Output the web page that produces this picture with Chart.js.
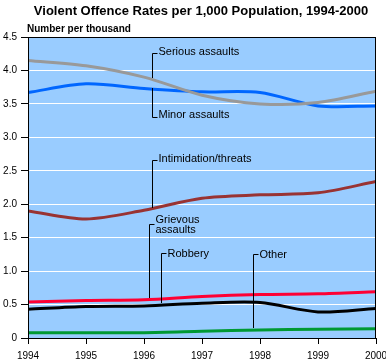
<!DOCTYPE html>
<html>
<head>
<meta charset="utf-8">
<title>Violent Offence Rates per 1,000 Population, 1994-2000</title>
<script src="https://cdn.jsdelivr.net/npm/chart.js@4/dist/chart.umd.min.js"></script>
<style>
  html, body { margin: 0; padding: 0; background: #fff; }
  .chart-container { position: relative; width: 386px; height: 361px; }
</style>
</head>
<body>
<div class="chart-container"><canvas id="chartContext" width="386" height="361"></canvas></div>
<script>
// Chart data
const years = [1994, 1995, 1996, 1997, 1998, 1999, 2000];
const seriousAssaults = [4.15, 4.07, 3.9, 3.63, 3.5, 3.52, 3.69];
const minorAssaults = [3.67, 3.8, 3.73, 3.68, 3.67, 3.47, 3.47];
const intimidation = [1.9, 1.78, 1.91, 2.09, 2.14, 2.17, 2.34];
const robbery = [0.54, 0.56, 0.57, 0.62, 0.65, 0.66, 0.69];
const grievousAssaults = [0.43, 0.47, 0.48, 0.52, 0.53, 0.39, 0.44];
const other = [0.08, 0.08, 0.08, 0.1, 0.12, 0.13, 0.14];
const yTicks = [0, 0.5, 1.0, 1.5, 2.0, 2.5, 3.0, 3.5, 4.0, 4.5];

const FONT = "'Liberation Sans', Arial, sans-serif";

// Callout labels with leader lines (year / value positions on the scales)
const callouts = [
    { lines: ["Serious assaults"], x: 1996.14, top: 4.26, bottom: 3.89, dy: -2 },
    { lines: ["Minor assaults"], x: 1996.14, top: 3.30, bottom: 3.74, dy: -3 },
    { lines: ["Intimidation/threats"], x: 1996.13, top: 2.66, bottom: 1.94, dy: -2 },
    { lines: ["Grievous", "assaults"], x: 1996.09, top: 1.70, bottom: 0.60, dy: 0 },
    { lines: ["Robbery"], x: 1996.30, top: 1.27, bottom: 0.52, dy: 0 },
    { lines: ["Other"], x: 1997.88, top: 1.25, bottom: 0.145, dy: 0 }
];

function toPoints(values) {
    return values.map((v, i) => ({ x: years[i], y: v }));
}

// Light blue plot background, black frame, titles and callouts
const decorations = {
    id: "decorations",
    beforeDraw(chart) {
        const { ctx, chartArea: a } = chart;
        ctx.save();
        ctx.fillStyle = "#99CCFF";
        ctx.fillRect(a.left, a.top, a.right - a.left, a.bottom - a.top);
        ctx.restore();
    },
    afterDatasetsDraw(chart) {
        const { ctx, chartArea: a, scales } = chart;
        ctx.save();
        // frame
        ctx.strokeStyle = "#000";
        ctx.lineWidth = 1;
        ctx.strokeRect(a.left + 0.5, a.top + 0.5, a.right - a.left - 1, a.bottom - a.top);

        // callouts
        ctx.font = "11px " + FONT;
        ctx.fillStyle = "#000";
        ctx.textBaseline = "middle";
        ctx.textAlign = "left";
        callouts.forEach(c => {
            const x = Math.round(scales.x.getPixelForValue(c.x)) + 0.5;
            const yTop = Math.round(scales.y.getPixelForValue(c.top)) + 0.5;
            const yBot = Math.round(scales.y.getPixelForValue(c.bottom));
            ctx.beginPath();
            ctx.moveTo(x + 5, yTop);
            ctx.lineTo(x, yTop);
            ctx.lineTo(x, yBot);
            ctx.stroke();
            if (c.lines.length === 1) {
                ctx.fillText(c.lines[0], x + 6, yTop + c.dy);
            } else {
                ctx.fillText(c.lines[0], x + 6, yTop - 5);
                ctx.fillText(c.lines[1], x + 6, yTop + 5);
            }
        });

        // titles
        ctx.font = "bold 13px " + FONT;
        ctx.textAlign = "center";
        ctx.fillText("Violent Offence Rates per 1,000 Population, 1994-2000", 201, 11);
        ctx.font = "bold 10px " + FONT;
        ctx.textAlign = "left";
        ctx.fillText("Number per thousand", 27, 29);
        ctx.restore();
    }
};

function lineSet(label, values, color) {
    return {
        label: label,
        data: toPoints(values),
        borderColor: color,
        borderWidth: 3,
        pointRadius: 0,
        tension: 0.3,
        fill: false
    };
}

const context = document.getElementById("chartContext");
new Chart(context, {
    type: "line",
    data: {
        datasets: [
            lineSet("Serious assaults", seriousAssaults, "#999999"),
            lineSet("Minor assaults", minorAssaults, "#0066FF"),
            lineSet("Intimidation/threats", intimidation, "#993333"),
            lineSet("Robbery", robbery, "#FF0033"),
            lineSet("Grievous assaults", grievousAssaults, "#000000"),
            lineSet("Other", other, "#009933")
        ]
    },
    options: {
        responsive: false,
        animation: false,
        layout: { padding: { top: 37, right: 10, left: 0, bottom: 0 } },
        plugins: {
            legend: { display: false },
            tooltip: { enabled: false }
        },
        scales: {
            x: {
                type: "linear",
                min: years[0],
                max: years[years.length - 1],
                afterBuildTicks(scale) {
                    scale.ticks = years.map(v => ({ value: v }));
                },
                afterFit(scale) {
                    scale.height = 23;
                    scale.paddingLeft = 0;
                    scale.paddingRight = 0;
                },
                grid: {
                    drawOnChartArea: false,
                    drawTicks: true,
                    tickLength: 6,
                    tickColor: "#000"
                },
                border: { display: true, color: "#000" },
                ticks: {
                    color: "#000",
                    font: { family: FONT, size: 10 },
                    padding: 6,
                    maxRotation: 0,
                    callback: v => String(v)
                }
            },
            y: {
                min: 0,
                max: 4.5,
                afterBuildTicks(scale) {
                    scale.ticks = yTicks.map(v => ({ value: v }));
                },
                afterFit(scale) {
                    scale.width = 28;
                    scale.paddingTop = 0;
                    scale.paddingBottom = 0;
                },
                grid: {
                    color: "#FFFFFF",
                    lineWidth: 1,
                    drawTicks: true,
                    tickLength: 7,
                    tickColor: "#000"
                },
                border: { display: true, color: "#000" },
                ticks: {
                    color: "#000",
                    font: { family: FONT, size: 10 },
                    padding: 4,
                    callback: v => (v === 0 ? "0" : v.toFixed(1))
                }
            }
        }
    },
    plugins: [decorations]
});
</script>
</body>
</html>
